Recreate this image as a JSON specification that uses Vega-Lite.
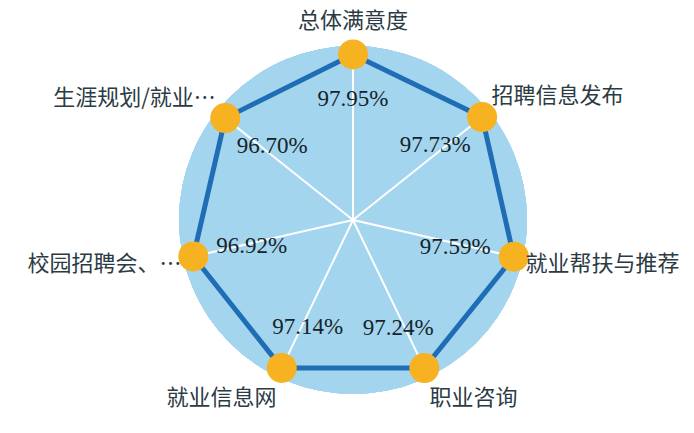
{
  "$schema": "https://vega.github.io/schema/vega-lite/v6.json",
  "width": 694,
  "height": 433,
  "padding": 0,
  "autosize": "none",
  "background": "white",
  "config": {"view": {"stroke": null}},
  "data": {"values": [
    {"item": "总体满意度", "value": 97.95},
    {"item": "招聘信息发布", "value": 97.73},
    {"item": "就业帮扶与推荐", "value": 97.59},
    {"item": "职业咨询", "value": 97.24},
    {"item": "就业信息网", "value": 97.14},
    {"item": "校园招聘会、…", "value": 96.92},
    {"item": "生涯规划/就业…", "value": 96.70}
  ]},
  "transform": [
    {"window": [{"op": "row_number", "as": "rn"}]},
    {"calculate": "(datum.rn-1)*2*PI/7", "as": "ang"},
    {"calculate": "datum.value*1.69", "as": "r"},
    {"calculate": "datum.r*sin(datum.ang)", "as": "px"},
    {"calculate": "datum.r*cos(datum.ang)", "as": "py"},
    {"calculate": "0", "as": "cx"},
    {"calculate": "(datum.r+12)*sin(datum.ang)", "as": "lx"},
    {"calculate": "(datum.r+33)*cos(datum.ang)", "as": "ly"},
    {"calculate": "(datum.r-60)*sin(datum.ang)", "as": "vx"},
    {"calculate": "(datum.r-45)*cos(datum.ang)", "as": "vy"},
    {"calculate": "format(datum.value, '.2f') + '%'", "as": "vlabel"}
  ],
  "layer": [
    {
      "mark": {"type": "point", "shape": "circle", "filled": true, "size": 121000, "color": "#a4d5ef", "opacity": 1},
      "encoding": {
        "x": {"field": "cx", "type": "quantitative", "scale": {"domain": [-353, 341]}, "axis": null},
        "y": {"field": "cx", "type": "quantitative", "scale": {"domain": [-213, 220]}, "axis": null}
      }
    },
    {
      "mark": {"type": "rule", "stroke": "white", "strokeWidth": 2},
      "encoding": {
        "x": {"field": "cx", "type": "quantitative", "scale": {"domain": [-353, 341]}, "axis": null},
        "y": {"field": "cx", "type": "quantitative", "scale": {"domain": [-213, 220]}, "axis": null},
        "x2": {"field": "px"},
        "y2": {"field": "py"}
      }
    },
    {
      "mark": {"type": "line", "interpolate": "linear-closed", "stroke": "#1f6db5", "strokeWidth": 5},
      "encoding": {
        "x": {"field": "px", "type": "quantitative", "scale": {"domain": [-353, 341]}, "axis": null},
        "y": {"field": "py", "type": "quantitative", "scale": {"domain": [-213, 220]}, "axis": null},
        "order": {"field": "rn", "type": "quantitative"}
      }
    },
    {
      "mark": {"type": "point", "shape": "circle", "filled": true, "size": 900, "color": "#f6b221", "opacity": 1},
      "encoding": {
        "x": {"field": "px", "type": "quantitative", "scale": {"domain": [-353, 341]}, "axis": null},
        "y": {"field": "py", "type": "quantitative", "scale": {"domain": [-213, 220]}, "axis": null}
      }
    },
    {
      "mark": {"type": "text", "font": "Liberation Serif", "fontSize": 23, "color": "#15242b", "align": "center", "baseline": "middle"},
      "encoding": {
        "x": {"field": "vx", "type": "quantitative", "scale": {"domain": [-353, 341]}, "axis": null},
        "y": {"field": "vy", "type": "quantitative", "scale": {"domain": [-213, 220]}, "axis": null},
        "text": {"field": "vlabel", "type": "nominal"}
      }
    },
    {
      "transform": [{"filter": "datum.rn == 1"}],
      "mark": {"type": "text", "font": "Noto Sans CJK SC", "fontSize": 22, "color": "#2b3b44", "align": "center", "baseline": "middle"},
      "encoding": {
        "x": {"field": "lx", "type": "quantitative", "scale": {"domain": [-353, 341]}, "axis": null},
        "y": {"field": "ly", "type": "quantitative", "scale": {"domain": [-213, 220]}, "axis": null},
        "text": {"field": "item", "type": "nominal"}
      }
    },
    {
      "transform": [{"filter": "datum.rn >= 2 && datum.rn <= 4"}],
      "mark": {"type": "text", "font": "Noto Sans CJK SC", "fontSize": 22, "color": "#2b3b44", "align": "left", "baseline": "middle"},
      "encoding": {
        "x": {"field": "lx", "type": "quantitative", "scale": {"domain": [-353, 341]}, "axis": null},
        "y": {"field": "ly", "type": "quantitative", "scale": {"domain": [-213, 220]}, "axis": null},
        "text": {"field": "item", "type": "nominal"}
      }
    },
    {
      "transform": [{"filter": "datum.rn >= 5"}],
      "mark": {"type": "text", "font": "Noto Sans CJK SC", "fontSize": 22, "color": "#2b3b44", "align": "right", "baseline": "middle"},
      "encoding": {
        "x": {"field": "lx", "type": "quantitative", "scale": {"domain": [-353, 341]}, "axis": null},
        "y": {"field": "ly", "type": "quantitative", "scale": {"domain": [-213, 220]}, "axis": null},
        "text": {"field": "item", "type": "nominal"}
      }
    }
  ]
}
